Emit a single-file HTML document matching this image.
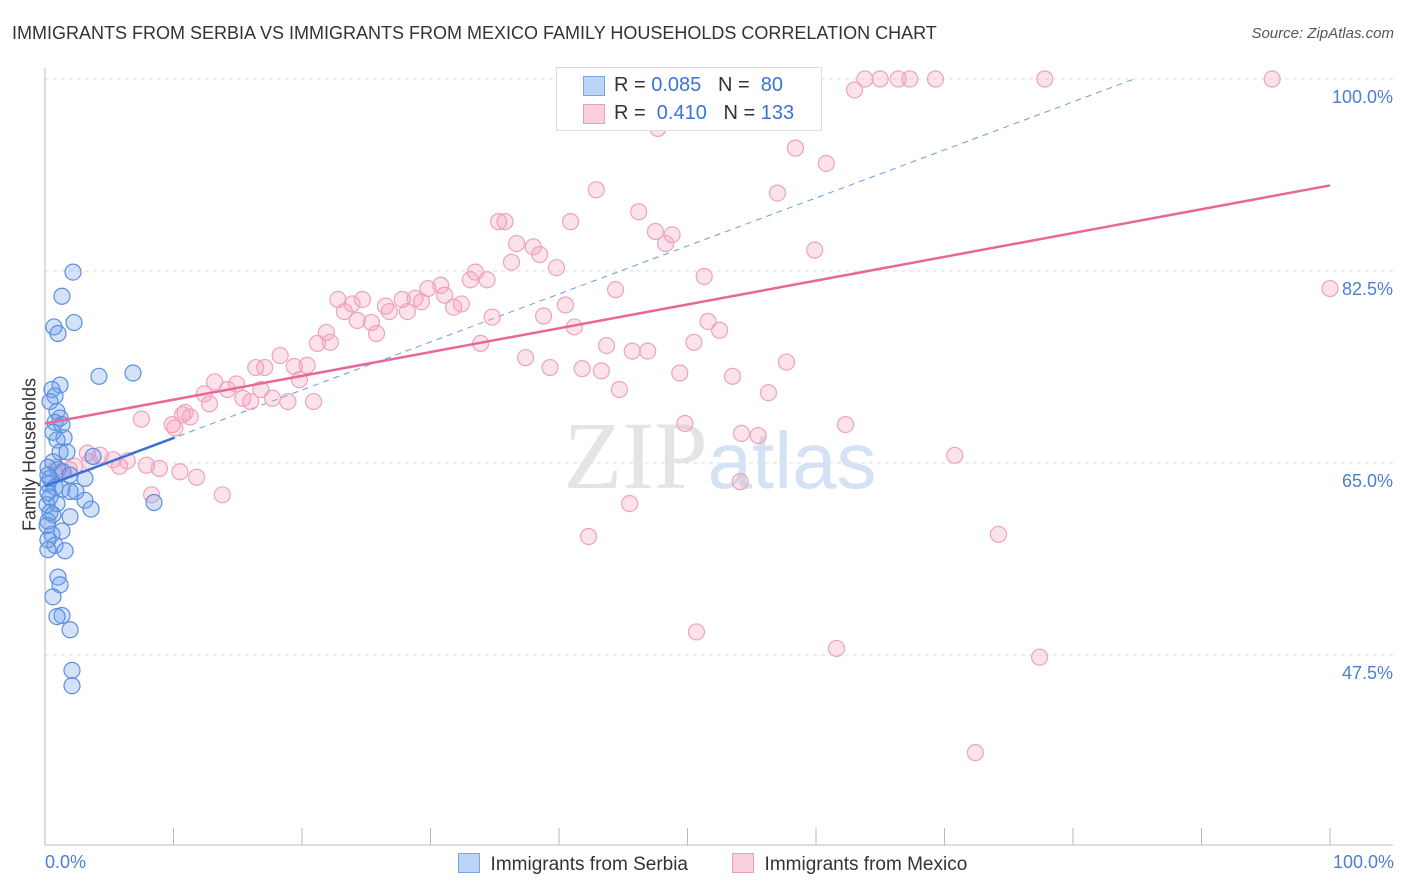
<!DOCTYPE html>
<html><head><meta charset="utf-8">
<style>
body{margin:0;background:#fff;font-family:"Liberation Sans",sans-serif;}
#wrap{position:relative;width:1406px;height:892px;overflow:hidden}
.t{position:absolute;white-space:nowrap}
</style></head>
<body><div id="wrap">
<div class="t" style="left:12px;top:23px;font-size:18px;color:#333">IMMIGRANTS FROM SERBIA VS IMMIGRANTS FROM MEXICO FAMILY HOUSEHOLDS CORRELATION CHART</div>
<div class="t" style="right:12px;top:25px;font-size:15px;color:#555;font-style:italic">Source: ZipAtlas.com</div>
<svg id="svg" width="1406" height="892" style="position:absolute;left:0;top:0"></svg>
</div>
<script>
const yTicks=[100,82.5,65,47.5];
const yTickLabels=["100.0%","82.5%","65.0%","47.5%"];
const serbiaX=[2.18,1.32,0.70,2.26,1.01,4.2,6.85,1.17,0.54,0.78,0.39,0.93,1.17,0.78,1.32,0.62,1.48,0.93,1.17,1.71,3.74,0.62,0.23,1.01,1.40,1.95,0.39,3.11,0.23,0.78,1.32,2.41,0.23,1.95,3.11,0.93,0.16,3.58,8.48,0.39,1.95,0.23,1.32,0.54,0.23,0.78,1.56,0.23,1.01,1.17,0.62,1.32,0.93,1.95,2.10,2.10,0.23,0.39,0.62,0.16];
const serbiaY=[82.4,80.2,77.4,77.8,76.8,72.9,73.2,72.1,71.7,71.1,70.6,69.7,69.1,68.7,68.5,67.8,67.3,67.1,66.0,66.0,65.6,65.1,64.6,64.4,64.2,63.9,63.6,63.6,63.1,62.8,62.6,62.4,62.3,62.4,61.6,61.3,61.2,60.8,61.4,60.5,60.1,59.7,58.8,58.5,58.0,57.5,57.0,57.1,54.6,53.9,52.8,51.1,51.0,49.8,46.1,44.7,63.9,61.9,60.3,59.3];
const mexicoX=[55.6,58.8,63.8,65.0,66.4,67.3,69.3,77.8,95.5,63.0,47.7,58.4,60.8,42.9,57.0,46.2,35.3,35.8,40.9,47.5,48.8,48.3,36.7,38.0,38.5,36.3,39.8,33.5,33.1,34.4,59.9,51.3,44.4,30.8,29.8,31.1,28.8,27.8,29.3,32.4,31.8,26.5,24.7,22.8,23.9,23.3,26.8,28.2,40.5,34.8,38.8,24.3,25.4,25.8,21.9,41.2,51.6,52.5,50.5,43.7,46.9,45.7,33.9,21.2,22.2,18.3,16.4,17.1,19.4,20.4,19.8,37.4,39.3,41.8,43.3,57.7,49.4,53.5,13.2,14.9,14.2,16.8,12.4,15.4,16.0,17.7,18.9,20.9,12.8,44.7,56.3,7.5,10.9,10.7,11.3,9.9,10.1,49.8,54.2,55.5,62.3,70.8,3.3,4.3,5.3,6.4,5.8,7.9,8.9,2.3,1.9,3.5,10.5,11.8,54.1,8.3,13.8,45.5,42.3,74.2,50.7,61.6,77.4,72.4,100,1.2,0.9];
const mexicoY=[100,100,100,100,100,100,100,100,100,99.0,95.5,93.7,92.3,89.9,89.6,87.9,87.0,87.0,87.0,86.1,85.8,85.0,85.0,84.7,84.0,83.3,82.8,82.4,81.7,81.7,84.4,82.0,80.8,81.2,80.9,80.3,80.0,79.9,79.7,79.5,79.2,79.3,79.9,79.9,79.5,78.8,78.8,78.8,79.4,78.3,78.4,78.0,77.8,76.8,76.9,77.4,77.9,77.1,76.0,75.7,75.2,75.2,75.9,75.9,76.0,74.8,73.7,73.7,73.8,73.9,72.6,74.6,73.7,73.6,73.4,74.2,73.2,72.9,72.4,72.2,71.7,71.7,71.3,70.9,70.6,70.9,70.6,70.6,70.4,71.7,71.4,69.0,69.6,69.4,69.2,68.5,68.2,68.6,67.7,67.5,68.5,65.7,65.9,65.7,65.3,65.2,64.7,64.8,64.5,64.7,64.4,65.1,64.2,63.7,63.3,62.1,62.1,61.3,58.3,58.5,49.6,48.1,47.3,38.6,80.9,64.2,64.6];
const serbiaTrend=[62.9,0.4377]; // intercept, slope
const mexicoTrend=[68.6,0.217];
const X0=45,X1=1330;
function xs(v){return X0+(X1-X0)*v/100;}
function ys(v){return 79+(100-v)/17.5*192;}
const svg=document.getElementById('svg');const NS='http://www.w3.org/2000/svg';
function mk(tag,a){const e=document.createElementNS(NS,tag);for(const k in a)e.setAttribute(k,a[k]);svg.appendChild(e);return e;}
yTicks.forEach((t,i)=>{
 const g=mk('line',{x1:45,x2:1393,y1:ys(t),y2:ys(t),stroke:'#ddd','stroke-dasharray':'4,4'});
 
 
 const tx=mk('text',{x:1393,y:ys(t)+24,'text-anchor':'end','font-size':18,fill:'#4a7fd4','font-family':'Liberation Sans, sans-serif'});
 tx.textContent=yTickLabels[i];
 
 
});
const ax=mk('line',{x1:45,x2:1393,y1:845,y2:845,stroke:'#bbb'});


const ay=mk('line',{x1:45,x2:45,y1:68,y2:845,stroke:'#bbb'});


for(let i=0;i<=10;i++){const tk=mk('line',{x1:xs(i*10),x2:xs(i*10),y1:828,y2:845,stroke:'#bbb'});
 
 }
const wm=mk('text',{x:720,y:488,'text-anchor':'middle','font-size':96,fill:'#e4e4e4','font-family':'Liberation Serif, serif'});
wm.innerHTML='ZIP<tspan fill="#d4e2f4" font-family="Liberation Sans, sans-serif" font-size="80">atlas</tspan>';


// blue dashed trend
const bd=mk('line',{x1:xs(0),y1:ys(serbiaTrend[0]),x2:xs((100-serbiaTrend[0])/serbiaTrend[1]),y2:ys(100),stroke:'#6a9be0','stroke-width':1,'stroke-dasharray':'6,5'});


mexicoX.forEach((x,i)=>{const c=mk('circle',{cx:xs(x),cy:ys(mexicoY[i]),r:8,fill:'rgba(244,160,190,0.3)',stroke:'#eea3bd','stroke-width':1.2});
 
 });
serbiaX.forEach((x,i)=>{const c=mk('circle',{cx:xs(x),cy:ys(serbiaY[i]),r:8,fill:'rgba(110,160,235,0.3)',stroke:'#5b8fe0','stroke-width':1.2});
 
 });
const pl=mk('line',{x1:xs(0),y1:ys(mexicoTrend[0]),x2:xs(100),y2:ys(mexicoTrend[0]+100*mexicoTrend[1]),stroke:'#e8679a','stroke-width':2.5});


const bl=mk('line',{x1:xs(0),y1:ys(serbiaTrend[0]),x2:xs(10.1),y2:ys(serbiaTrend[0]+10.1*serbiaTrend[1]),stroke:'#3a73d6','stroke-width':2.5});


</script>
<div class="t" style="left:-50px;top:444px;width:160px;text-align:center;font-size:18px;color:#333;transform:rotate(-90deg)">Family Households</div>
<div class="t" style="left:45px;top:852px;font-size:18px;color:#4a7fd4">0.0%</div>
<div class="t" style="right:12px;top:852px;font-size:18px;color:#4a7fd4">100.0%</div>
<div style="position:absolute;left:556px;top:67px;width:264px;height:62px;border:1px solid #ddd;background:#fff;font-size:20px;color:#333">
 <div style="position:absolute;left:26px;top:8px;width:20px;height:18px;background:#bcd4f6;border:1px solid #7aa6e8"></div>
 <div class="t" style="left:57px;top:6px">R = <span style="color:#3a73d6">0.085</span>&nbsp;&nbsp;&nbsp;N = &nbsp;<span style="color:#3a73d6">80</span></div>
 <div style="position:absolute;left:26px;top:36px;width:20px;height:18px;background:#fbd0de;border:1px solid #ee9db9"></div>
 <div class="t" style="left:57px;top:34px">R = &nbsp;<span style="color:#3a73d6">0.410</span>&nbsp;&nbsp;&nbsp;N = <span style="color:#3a73d6">133</span></div>
</div>
<div style="position:absolute;left:458px;top:853px;font-size:19px;color:#333">
 <span style="display:inline-block;width:20px;height:18px;background:#bcd4f6;border:1px solid #7aa6e8;vertical-align:-3px"></span>&nbsp; Immigrants from Serbia</div>
<div style="position:absolute;left:732px;top:853px;font-size:19px;color:#333">
 <span style="display:inline-block;width:20px;height:18px;background:#fbd0de;border:1px solid #ee9db9;vertical-align:-3px"></span>&nbsp; Immigrants from Mexico</div>
</body></html>
